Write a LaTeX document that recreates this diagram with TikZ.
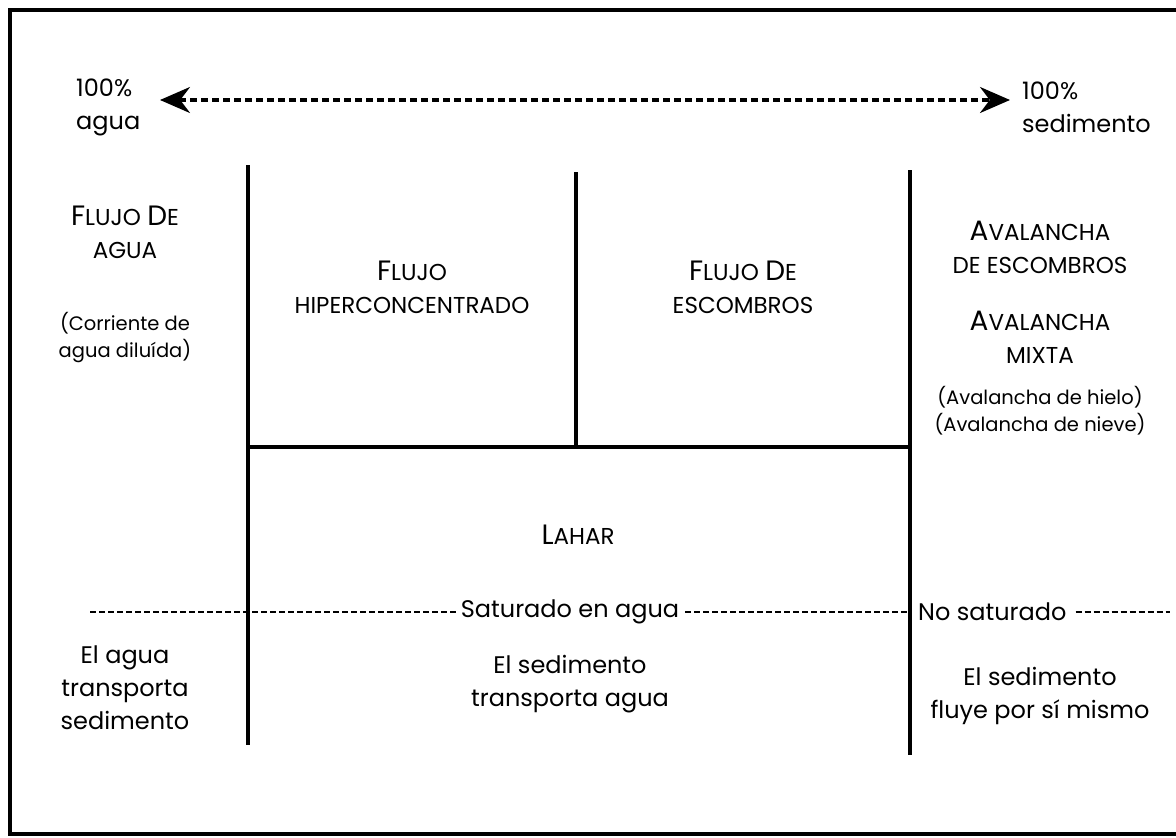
\documentclass[tikz,border=0pt]{standalone}
\usepackage{fontspec}
\setmainfont{Poppins}
\usetikzlibrary{arrows.meta}
\newcommand{\SCx}[2]{{\fontsize{28}{36}\selectfont #1}{\fontsize{23}{36}\selectfont #2}}
\tikzset{
  txt/.style={align=center, inner sep=0pt, font=\fontsize{24}{33}\selectfont},
  small/.style={align=center, inner sep=0pt, font=\fontsize{19.5}{27}\selectfont},
  rule/.style={line width=3.2pt},
  sep/.style={line width=2.4pt, dash pattern=on 6pt off 3pt},
  scale arrow/.style={line width=3.2pt, dash pattern=on 7pt off 4pt, {Stealth[length=30pt,width=26pt]}-{Stealth[length=30pt,width=26pt]}}
}
\begin{document}
\begin{tikzpicture}[x=1pt,y=-1pt]
\useasboundingbox (0,0) rectangle (1176,838);
\draw[line width=3.5pt] (10,10) rectangle (1190,834);
% scale arrow
\node[txt, align=left, anchor=west] (w100) at (76,107) {100\%\\agua};
\node[txt, align=left, anchor=west] (s100) at (1022,107) {100\%\\sedimento};
\coordinate (tipL) at (160,100);
\coordinate (tipR) at (1010,100);
\draw[scale arrow] (tipL) -- (tipR);
% grid lines
\coordinate (v1t) at (248,165); \coordinate (v1b) at (248,745);
\coordinate (v2t) at (576,172); \coordinate (v2b) at (576,447);
\coordinate (v3t) at (910,170); \coordinate (v3b) at (910,755);
\coordinate (hl) at (248,447); \coordinate (hr) at (910,447);
\draw[rule] (v1t) -- (v1b);
\draw[rule] (v2t) -- (v2b);
\draw[rule] (v3t) -- (v3b);
\draw[rule] (hl) -- (hr);
% category labels
\node[txt] (fagua) at (125,232) {\SCx{F}{LUJO} \SCx{D}{E}\\\SCx{}{AGUA}};
\node[small] (corr) at (125,338) {(Corriente de\\agua diluída)};
\node[txt] (fhip) at (412,287) {\SCx{F}{LUJO}\\\SCx{}{HIPERCONCENTRADO}};
\node[txt] (fesc) at (743,287) {\SCx{F}{LUJO} \SCx{D}{E}\\\SCx{}{ESCOMBROS}};
\node[txt] (avesc) at (1040,247) {\SCx{A}{VALANCHA}\\\SCx{}{DE ESCOMBROS}};
\node[txt] (avmix) at (1040,337) {\SCx{A}{VALANCHA}\\\SCx{}{MIXTA}};
\node[small] (avhn) at (1040,411) {(Avalancha de hielo)\\(Avalancha de nieve)};
\node[txt] (lahar) at (578,535) {\SCx{L}{AHAR}};
% saturation line
\node[txt] (sat) at (570,612) {Saturado en agua};
\node[txt, anchor=west] (nosat) at (918,612) {No saturado};
\coordinate (dL) at (90,612);
\coordinate (dM) at (907,612);
\coordinate (dR) at (1170,612);
\draw[sep] (dL) -- ([xshift=-5pt]sat.west);
\draw[sep] ([xshift=6pt]sat.east) -- (dM);
\draw[sep] ([xshift=9pt]nosat.east) -- (dR);
% bottom labels
\node[txt] (aguatr) at (125,688) {El agua\\transporta\\sedimento};
\node[txt] (sedtr) at (570,684) {El sedimento\\transporta agua};
\node[txt] (sedfl) at (1040,696) {El sedimento\\fluye por sí mismo};
\end{tikzpicture}
\end{document}
